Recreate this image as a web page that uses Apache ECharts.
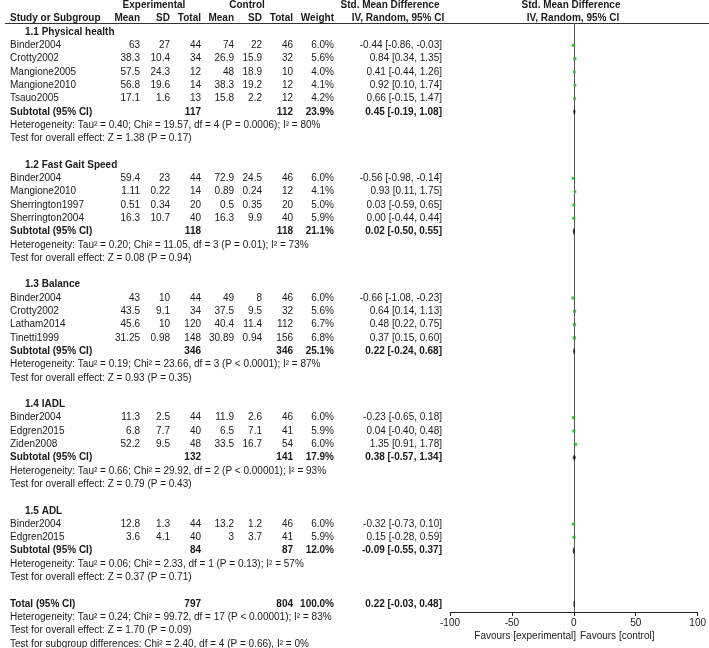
<!DOCTYPE html>
<html>
<head>
<meta charset="utf-8">
<script src="https://cdn.jsdelivr.net/npm/echarts/dist/echarts.min.js"></script>
<style>
  html, body { margin: 0; padding: 0; background: #fff; }
  #main { width: 709px; height: 648px; }
</style>
</head>
<body>
<div id="main"></div>
<script>
// subgroups
const groupTitles = ['1.1 Physical health', '1.2 Fast Gait Speed', '1.3 Balance', '1.4 IADL', '1.5 ADL'];
const groupSizes = [5, 4, 4, 3, 2];

// studies, in the order of the table
const studyNames = ['Binder2004', 'Crotty2002', 'Mangione2005', 'Mangione2010', 'Tsauo2005',
  'Binder2004', 'Mangione2010', 'Sherrington1997', 'Sherrington2004',
  'Binder2004', 'Crotty2002', 'Latham2014', 'Tinetti1999',
  'Binder2004', 'Edgren2015', 'Ziden2008',
  'Binder2004', 'Edgren2015'];
const expMean = [63, 38.3, 57.5, 56.8, 17.1, 59.4, 1.11, 0.51, 16.3, 43, 43.5, 45.6, 31.25, 11.3, 6.8, 52.2, 12.8, 3.6];
const expSD = [27, 10.4, 24.3, 19.6, 1.6, 23, 0.22, 0.34, 10.7, 10, 9.1, 10, 0.98, 2.5, 7.7, 9.5, 1.3, 4.1];
const expN = [44, 34, 12, 14, 13, 44, 14, 20, 40, 44, 34, 120, 148, 44, 40, 48, 44, 40];
const ctlMean = [74, 26.9, 48, 38.3, 15.8, 72.9, 0.89, 0.5, 16.3, 49, 37.5, 40.4, 30.89, 11.9, 6.5, 33.5, 13.2, 3];
const ctlSD = [22, 15.9, 18.9, 19.2, 2.2, 24.5, 0.24, 0.35, 9.9, 8, 9.5, 11.4, 0.94, 2.6, 7.1, 16.7, 1.2, 3.7];
const ctlN = [46, 32, 10, 12, 12, 46, 12, 20, 40, 46, 32, 112, 156, 46, 41, 54, 46, 41];
const weight = [6.0, 5.6, 4.0, 4.1, 4.2, 6.0, 4.1, 5.0, 5.9, 6.0, 5.6, 6.7, 6.8, 6.0, 5.9, 6.0, 6.0, 5.9];
const smd = [-0.44, 0.84, 0.41, 0.92, 0.66, -0.56, 0.93, 0.03, 0.00, -0.66, 0.64, 0.48, 0.37, -0.23, 0.04, 1.35, -0.32, 0.15];
const smdLo = [-0.86, 0.34, -0.44, 0.10, -0.15, -0.98, 0.11, -0.59, -0.44, -1.08, 0.14, 0.22, 0.15, -0.65, -0.40, 0.91, -0.73, -0.28];
const smdHi = [-0.03, 1.35, 1.26, 1.74, 1.47, -0.14, 1.75, 0.65, 0.44, -0.23, 1.13, 0.75, 0.60, 0.18, 0.48, 1.78, 0.10, 0.59];

// subtotals
const subExpN = [117, 118, 346, 132, 84];
const subCtlN = [112, 118, 346, 141, 87];
const subWeight = [23.9, 21.1, 25.1, 17.9, 12.0];
const subSmd = [0.45, 0.02, 0.22, 0.38, -0.09];
const subLo = [-0.19, -0.50, -0.24, -0.57, -0.55];
const subHi = [1.08, 0.55, 0.68, 1.34, 0.37];
const subHet = [
  'Heterogeneity: Tau² = 0.40; Chi² = 19.57, df = 4 (P = 0.0006); I² = 80%',
  'Heterogeneity: Tau² = 0.20; Chi² = 11.05, df = 3 (P = 0.01); I² = 73%',
  'Heterogeneity: Tau² = 0.19; Chi² = 23.66, df = 3 (P < 0.0001); I² = 87%',
  'Heterogeneity: Tau² = 0.66; Chi² = 29.92, df = 2 (P < 0.00001); I² = 93%',
  'Heterogeneity: Tau² = 0.06; Chi² = 2.33, df = 1 (P = 0.13); I² = 57%'
];
const subTest = [
  'Test for overall effect: Z = 1.38 (P = 0.17)',
  'Test for overall effect: Z = 0.08 (P = 0.94)',
  'Test for overall effect: Z = 0.93 (P = 0.35)',
  'Test for overall effect: Z = 0.79 (P = 0.43)',
  'Test for overall effect: Z = 0.37 (P = 0.71)'
];

// overall
const totalN = [797, 804];
const totalWeight = 100.0;
const totalSmd = [0.22, -0.03, 0.48];
const totalNotes = [
  'Heterogeneity: Tau² = 0.24; Chi² = 99.72, df = 17 (P < 0.00001); I² = 83%',
  'Test for overall effect: Z = 1.70 (P = 0.09)',
  'Test for subgroup differences: Chi² = 2.40, df = 4 (P = 0.66), I² = 0%'
];

// layout
const ROW0 = 32, ROWH = 13.3;
const toRow = px => (px - ROW0) / ROWH;
const col = { name: 10, title: 25, eMean: 140, eSD: 170, eN: 201, cMean: 234, cSD: 262, cN: 293, w: 334, ci: 442 };
const FONT = '"Liberation Sans", Arial, sans-serif';
const TXT = '#1a1a1a';

const cells = [];
const add = (row, x, text, align, bold) => cells.push({ row, x, text: String(text), align: align || 'right', bold: !!bold });
const ciText = (m, lo, hi) => m.toFixed(2) + ' [' + lo.toFixed(2) + ', ' + hi.toFixed(2) + ']';

// header
add(-2, 154, 'Experimental', 'center', true);
add(-2, 247, 'Control', 'center', true);
add(-2, 390, 'Std. Mean Difference', 'center', true);
add(-2, 571, 'Std. Mean Difference', 'center', true);
add(-1, col.name, 'Study or Subgroup', 'left', true);
add(-1, col.eMean, 'Mean', 'right', true);
add(-1, col.eSD, 'SD', 'right', true);
add(-1, col.eN, 'Total', 'right', true);
add(-1, col.cMean, 'Mean', 'right', true);
add(-1, col.cSD, 'SD', 'right', true);
add(-1, col.cN, 'Total', 'right', true);
add(-1, col.w, 'Weight', 'right', true);
add(-1, 398, 'IV, Random, 95% CI', 'center', true);
add(-1, 573, 'IV, Random, 95% CI', 'center', true);

const studyRows = [];
const subRows = [];
let r = 0, s = 0;
groupTitles.forEach((title, g) => {
  add(r, col.title, title, 'left', true);
  r++;
  for (let k = 0; k < groupSizes[g]; k++, s++, r++) {
    studyRows.push(r);
    add(r, col.name, studyNames[s], 'left');
    add(r, col.eMean, expMean[s]);
    add(r, col.eSD, expSD[s]);
    add(r, col.eN, expN[s]);
    add(r, col.cMean, ctlMean[s]);
    add(r, col.cSD, ctlSD[s]);
    add(r, col.cN, ctlN[s]);
    add(r, col.w, weight[s].toFixed(1) + '%');
    add(r, col.ci, ciText(smd[s], smdLo[s], smdHi[s]));
  }
  subRows.push(r);
  add(r, col.name, 'Subtotal (95% CI)', 'left', true);
  add(r, col.eN, subExpN[g], 'right', true);
  add(r, col.cN, subCtlN[g], 'right', true);
  add(r, col.w, subWeight[g].toFixed(1) + '%', 'right', true);
  add(r, col.ci, ciText(subSmd[g], subLo[g], subHi[g]), 'right', true);
  r++;
  add(r++, col.name, subHet[g], 'left');
  add(r++, col.name, subTest[g], 'left');
  r++;
});
const totalRow = r;
add(r, col.name, 'Total (95% CI)', 'left', true);
add(r, col.eN, totalN[0], 'right', true);
add(r, col.cN, totalN[1], 'right', true);
add(r, col.w, totalWeight.toFixed(1) + '%', 'right', true);
add(r, col.ci, ciText(totalSmd[0], totalSmd[1], totalSmd[2]), 'right', true);
r++;
totalNotes.forEach(t => add(r++, col.name, t, 'left'));

const diamonds = subSmd.map((m, g) => [m, subLo[g], subHi[g], subRows[g]]);
diamonds.push([totalSmd[0], totalSmd[1], totalSmd[2], totalRow]);

const chart = echarts.init(document.getElementById('main'));
chart.setOption({
  animation: false,
  grid: [
    { left: 0, top: 0, width: 709, height: 648 },
    { left: 450, right: 11, top: 23, bottom: 36 }
  ],
  xAxis: [
    { gridIndex: 0, type: 'value', min: 0, max: 709, show: false },
    {
      gridIndex: 1, type: 'value', min: -100, max: 100, interval: 50,
      axisLine: { show: true, onZero: false, lineStyle: { color: '#222', width: 1 } },
      axisTick: { show: true, length: 4, lineStyle: { color: '#222' } },
      axisLabel: { color: TXT, fontSize: 10, fontFamily: FONT, margin: 6 },
      splitLine: { show: false }
    }
  ],
  yAxis: [
    { gridIndex: 0, type: 'value', inverse: true, min: toRow(0), max: toRow(648), show: false },
    { gridIndex: 1, type: 'value', inverse: true, min: toRow(23), max: toRow(612), show: false }
  ],
  graphic: [
    { type: 'line', shape: { x1: 5, y1: 23.5, x2: 709, y2: 23.5 }, style: { stroke: '#333', lineWidth: 1 } },
    { type: 'text', x: 576, y: 636, style: { text: 'Favours [experimental]', align: 'right', verticalAlign: 'middle', font: '10px ' + FONT, fill: TXT } },
    { type: 'text', x: 580, y: 636, style: { text: 'Favours [control]', align: 'left', verticalAlign: 'middle', font: '10px ' + FONT, fill: TXT } }
  ],
  series: [
    {
      type: 'custom', xAxisIndex: 0, yAxisIndex: 0, silent: true,
      data: cells.map(c => [c.x, c.row]),
      renderItem: (params, api) => {
        const c = cells[params.dataIndex];
        const p = api.coord([api.value(0), api.value(1)]);
        return {
          type: 'text',
          style: {
            x: p[0], y: p[1], text: c.text, align: c.align, verticalAlign: 'middle',
            font: (c.bold ? 'bold ' : '') + '10px ' + FONT, fill: TXT
          }
        };
      }
    },
    {
      // confidence intervals + line of no effect
      type: 'custom', xAxisIndex: 1, yAxisIndex: 1, silent: true, z: 1,
      data: studyRows.map((row, i) => [smdLo[i], smdHi[i], row]),
      renderItem: (params, api) => {
        const a = api.coord([api.value(0), api.value(2)]);
        const b = api.coord([api.value(1), api.value(2)]);
        return { type: 'line', shape: { x1: a[0], y1: a[1], x2: b[0], y2: b[1] }, style: { stroke: '#999', lineWidth: 1 } };
      },
      markLine: {
        silent: true, symbol: 'none', label: { show: false },
        lineStyle: { color: '#555', width: 1, type: 'solid' },
        data: [{ xAxis: 0 }]
      }
    },
    {
      type: 'scatter', xAxisIndex: 1, yAxisIndex: 1, silent: true,
      symbol: 'rect',
      data: studyRows.map((row, i) => [smd[i], row, weight[i]]),
      symbolSize: v => Math.sqrt(v[2]) * 1.3,
      itemStyle: { color: '#22b822' },
      z: 5
    },
    {
      // pooled estimates
      type: 'custom', xAxisIndex: 1, yAxisIndex: 1, silent: true,
      data: diamonds,
      renderItem: (params, api) => {
        const row = api.value(3);
        const m = api.coord([api.value(0), row]);
        const lo = api.coord([api.value(1), row]);
        const hi = api.coord([api.value(2), row]);
        return {
          type: 'polygon',
          shape: { points: [[lo[0], m[1]], [m[0], m[1] - 3], [hi[0], m[1]], [m[0], m[1] + 3]] },
          style: { fill: '#111', stroke: '#111', lineWidth: 0.5 }
        };
      },
      z: 6
    }
  ]
});
</script>
</body>
</html>
